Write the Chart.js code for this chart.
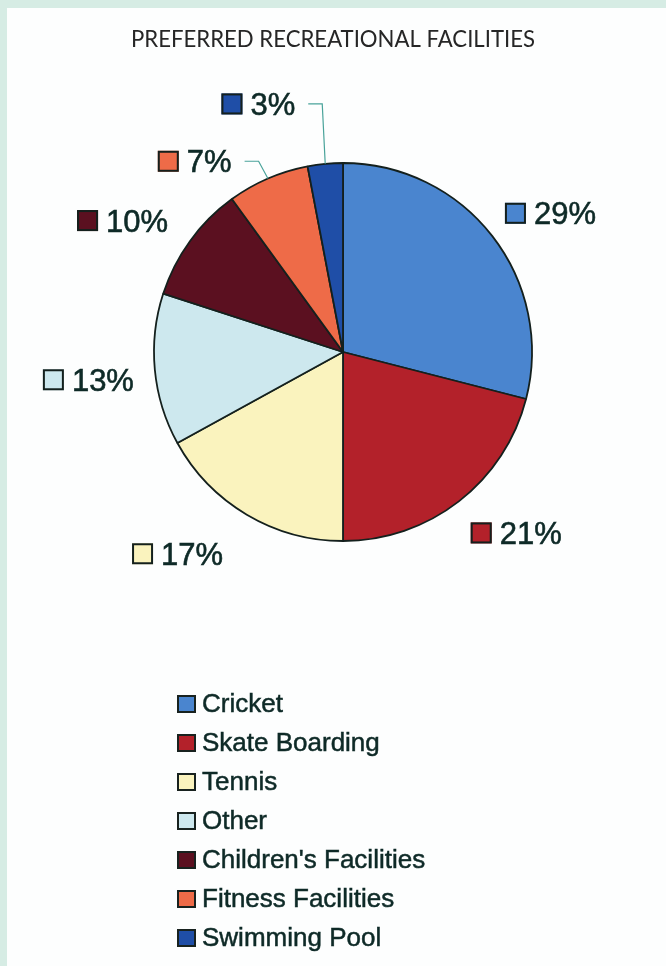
<!DOCTYPE html>
<html><head><meta charset="utf-8">
<script src="https://cdn.jsdelivr.net/npm/chart.js@4.4.1/dist/chart.umd.min.js"></script>
<style>
html,body{margin:0;padding:0;}
body{width:666px;height:966px;background:#d6ece4;position:relative;overflow:hidden;}
#panel{position:absolute;left:7px;top:8px;right:0;bottom:0;background:#fdfefe;}
#wrap{position:absolute;left:0;top:0;width:666px;height:966px;}
#legend{position:absolute;left:177px;top:684px;font:26px "Liberation Sans",Arial,sans-serif;color:#0e2a27;-webkit-text-stroke:0.5px #0e2a27;}
.row{height:39px;display:flex;align-items:center;white-space:nowrap;}
.sw{width:15px;height:14px;border:2px solid #18221f;margin-right:6px;flex:none;-webkit-text-stroke:0;}
</style></head>
<body>
<div id="panel"></div>
<div id="wrap"><canvas id="c"></canvas></div>
<div id="legend"></div>
<script>
// ---- data ----
const chartTitle = 'PREFERRED RECREATIONAL FACILITIES';
const categories = ['Cricket', 'Skate Boarding', 'Tennis', 'Other', "Children's Facilities", 'Fitness Facilities', 'Swimming Pool'];
const shares = [29, 21, 17, 13, 10, 7, 3];
const sliceColors = ['#4a85cf', '#b3212a', '#faf3be', '#cde8ee', '#5b1020', '#ee6b48', '#1f4ea7'];

// ---- label layout (separate from data) ----
const labelNudge = [[-4,1],[-1,4],[-13,10],[0,-3],[-5,3],[-28,13],[-28,-28]];
const hasLeader = [false, false, false, false, false, true, true];
const LABEL_GAP = 21, SQ = 21, SQ_GAP = 8, LABEL_H = 22;
const textColor = '#0e2a27';
const edgeColor = '#14201d';
const leaderColor = '#49a39a';

const pieLabels = {
  id: 'pieLabels',
  afterDatasetsDraw(chart) {
    const ctx = chart.ctx;
    const meta = chart.getDatasetMeta(0);
    ctx.save();
    ctx.font = '31px "Liberation Sans", Arial, sans-serif';
    meta.data.forEach((arc, i) => {
      const p = arc.getProps(['x','y','startAngle','endAngle','outerRadius'], true);
      const mid = (p.startAngle + p.endAngle) / 2;
      const c = Math.cos(mid), s = Math.sin(mid);
      const d = p.outerRadius + LABEL_GAP;
      const px = p.x + c * d, py = p.y + s * d;
      const text = shares[i] + '%';
      const tw = ctx.measureText(text).width;
      const w = SQ + SQ_GAP + tw;
      let left = c >= 0 ? px : px - w;
      let top = s >= 0 ? py : py - LABEL_H;
      left += labelNudge[i][0];
      top += labelNudge[i][1];
      const cy = top + LABEL_H / 2;
      ctx.fillStyle = sliceColors[i];
      ctx.fillRect(left, cy - SQ/2, SQ, SQ);
      ctx.lineWidth = 2;
      ctx.strokeStyle = edgeColor;
      ctx.strokeRect(left + 1, cy - SQ/2 + 1, SQ - 2, SQ - 2);
      ctx.fillStyle = textColor;
      ctx.textAlign = 'left';
      ctx.textBaseline = 'alphabetic';
      ctx.fillText(text, left + SQ + SQ_GAP, top + LABEL_H);
      ctx.lineWidth = 0.6;
      ctx.strokeStyle = textColor;
      ctx.strokeText(text, left + SQ + SQ_GAP, top + LABEL_H);
      if (hasLeader[i]) {
        const sx = left + w + 13;
        const ex = p.x + c * p.outerRadius, ey = p.y + s * p.outerRadius;
        ctx.beginPath();
        ctx.moveTo(sx, cy);
        ctx.lineTo(sx + 14, cy);
        ctx.lineTo(ex, ey);
        ctx.lineWidth = 1.2;
        ctx.strokeStyle = leaderColor;
        ctx.stroke();
      }
    });
    // title
    ctx.font = '400 23px Lato, "Open Sans", sans-serif';
    const tw = ctx.measureText(chartTitle).width;
    const sx = Math.min(1, 404 / tw);
    ctx.translate(333, 47);
    ctx.scale(sx, 1);
    ctx.fillStyle = '#262626';
    ctx.textAlign = 'center';
    ctx.textBaseline = 'alphabetic';
    ctx.fillText(chartTitle, 0, 0);
    ctx.restore();
  }
};

const chart = new Chart(document.getElementById('c'), {
  type: 'pie',
  data: {
    labels: categories,
    datasets: [{
      data: shares,
      backgroundColor: sliceColors,
      borderColor: edgeColor,
      borderWidth: 1.8,
      hoverOffset: 0
    }]
  },
  options: {
    responsive: true,
    maintainAspectRatio: false,
    animation: false,
    events: [],
    radius: 189,
    layout: { padding: { top: 100, bottom: 362, left: 130, right: 110 } },
    plugins: {
      legend: { display: false },
      title: { display: false },
      tooltip: { enabled: false }
    }
  },
  plugins: [pieLabels]
});

// HTML legend built from the chart's own legend items
const items = chart.options.plugins.legend.labels.generateLabels(chart);
const legendEl = document.getElementById('legend');
items.forEach(it => {
  const row = document.createElement('div');
  row.className = 'row';
  const sw = document.createElement('span');
  sw.className = 'sw';
  sw.style.background = it.fillStyle;
  const tx = document.createElement('span');
  tx.textContent = it.text;
  row.appendChild(sw);
  row.appendChild(tx);
  legendEl.appendChild(row);
});
</script>
</body></html>
